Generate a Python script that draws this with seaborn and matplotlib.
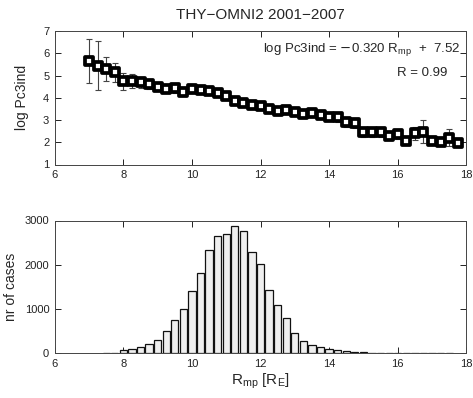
import matplotlib
matplotlib.use("Agg")
import matplotlib.pyplot as plt
import seaborn as sns
import numpy as np
import pandas as pd

# ---- data ----
rmp_top = [7.0, 7.25, 7.5, 7.75, 8.0, 8.25, 8.5, 8.75, 9.0, 9.25, 9.5, 9.75,
           10.0, 10.25, 10.5, 10.75, 11.0, 11.25, 11.5, 11.75, 12.0, 12.25,
           12.5, 12.75, 13.0, 13.25, 13.5, 13.75, 14.0, 14.25, 14.5, 14.75,
           15.0, 15.25, 15.5, 15.75, 16.0, 16.25, 16.5, 16.75, 17.0, 17.25,
           17.5, 17.75]
log_pc3 = [5.65, 5.44, 5.29, 5.15, 4.75, 4.75, 4.70, 4.61, 4.50, 4.41, 4.43, 4.28,
           4.40, 4.35, 4.31, 4.20, 4.08, 3.87, 3.75, 3.68, 3.63, 3.48,
           3.41, 3.45, 3.38, 3.26, 3.30, 3.24, 3.15, 3.12, 2.90, 2.88,
           2.45, 2.45, 2.45, 2.30, 2.36, 2.07, 2.40, 2.48, 2.07, 2.03,
           2.21, 1.98]
log_pc3_err = [1.0, 1.1, 0.55, 0.42, 0.38, 0.30, 0.25, 0.22, 0.2, 0.2, 0.2, 0.2,
               0.18, 0.18, 0.18, 0.18, 0.18, 0.18, 0.18, 0.18, 0.18, 0.18,
               0.18, 0.18, 0.18, 0.18, 0.18, 0.18, 0.18, 0.2, 0.2, 0.22,
               0.2, 0.2, 0.2, 0.2, 0.2, 0.2, 0.3, 0.5, 0.2, 0.2,
               0.38, 0.2]

rmp_bins = [7.5, 7.75, 8.0, 8.25, 8.5, 8.75, 9.0, 9.25, 9.5, 9.75,
            10.0, 10.25, 10.5, 10.75, 11.0, 11.25, 11.5, 11.75, 12.0, 12.25,
            12.5, 12.75, 13.0, 13.25, 13.5, 13.75, 14.0, 14.25, 14.5, 14.75,
            15.0, 15.25, 15.5, 15.75, 16.0, 16.25, 16.5, 16.75, 17.0, 17.25,
            17.5]
n_cases = [12, 12, 68, 90, 136, 208, 309, 505, 746, 995,
           1410, 1809, 2344, 2646, 2706, 2887, 2759, 2299, 2020, 1425,
           1085, 791, 467, 286, 181, 151, 106, 75, 60, 38,
           25, 18, 15, 15, 15, 15, 12, 12, 12, 0,
           12]

x_ticks = [6, 8, 10, 12, 14, 16, 18]
y_ticks_top = [1, 2, 3, 4, 5, 6, 7]
y_ticks_bot = [0, 1000, 2000, 3000]

# ---- style ----
sns.set_style("ticks")
plt.rcParams['font.family'] = ['Liberation Sans', 'DejaVu Sans']
plt.rcParams['axes.unicode_minus'] = True

W, H = 473, 398
fig = plt.figure(figsize=(W / 100, H / 100), dpi=100)

ax1 = fig.add_axes([54.8 / W, 1 - 164.5 / H, (466.3 - 54.8) / W, (164.5 - 31) / H])
ax2 = fig.add_axes([54.8 / W, 1 - 353.3 / H, (466.3 - 54.8) / W, (353.3 - 220.5) / H])

df_top = pd.DataFrame({"rmp": rmp_top, "logpc": log_pc3, "err": log_pc3_err})
ax1.errorbar(df_top["rmp"], df_top["logpc"], yerr=df_top["err"], fmt='none',
             ecolor='#444444', elinewidth=0.8, capsize=2.5, capthick=0.8, zorder=2)
sns.scatterplot(data=df_top, x="rmp", y="logpc", marker='s', s=30,
                facecolor='white', edgecolor='black', linewidth=2.7,
                ax=ax1, zorder=3, legend=False)

df_bot = pd.DataFrame({"rmp": rmp_bins, "n": n_cases})
sns.histplot(data=df_bot, x="rmp", weights="n", binwidth=0.25,
             binrange=(7.375, 17.625), shrink=0.85, color='#efefef',
             edgecolor='#111111', linewidth=0.9, alpha=1, ax=ax2)

for ax in (ax1, ax2):
    ax.set_xlim(6, 18)
    ax.set_xticks(x_ticks)
    ax.tick_params(direction='in', top=True, right=True, length=4, width=0.7,
                   labelsize=8, colors='#222222', pad=4)
    for s in ax.spines.values():
        s.set_color('#444444')
        s.set_linewidth(0.7)
        s.set_visible(True)

ax1.set_ylim(1, 7)
ax1.set_yticks(y_ticks_top)
ax1.set_xlabel("")
ax1.set_ylabel("log Pc3ind", fontsize=10, labelpad=10)

ax2.set_ylim(0, 3000)
ax2.set_yticks(y_ticks_bot)
ax2.set_ylabel("nr of cases", fontsize=10, labelpad=5)
ax2.set_xlabel(r"R$_{\mathregular{mp}}$ [R$_{\mathregular{E}}$]", fontsize=11, labelpad=2)

ax1.text(0.985, 0.845, r"log Pc3ind = $-$0.320 R$_{\mathregular{mp}}$  +  7.52",
         transform=ax1.transAxes, ha='right', va='baseline', fontsize=9.5)
ax1.text(0.955, 0.665, "R = 0.99", transform=ax1.transAxes, ha='right',
         va='baseline', fontsize=9.5)

fig.text((54.8 + 466.3) / 2 / W, 1 - 15 / H, "THY\u2212OMNI2 2001\u22122007",
         ha='center', va='center', fontsize=11)

fig.savefig("out.png", dpi=100)
